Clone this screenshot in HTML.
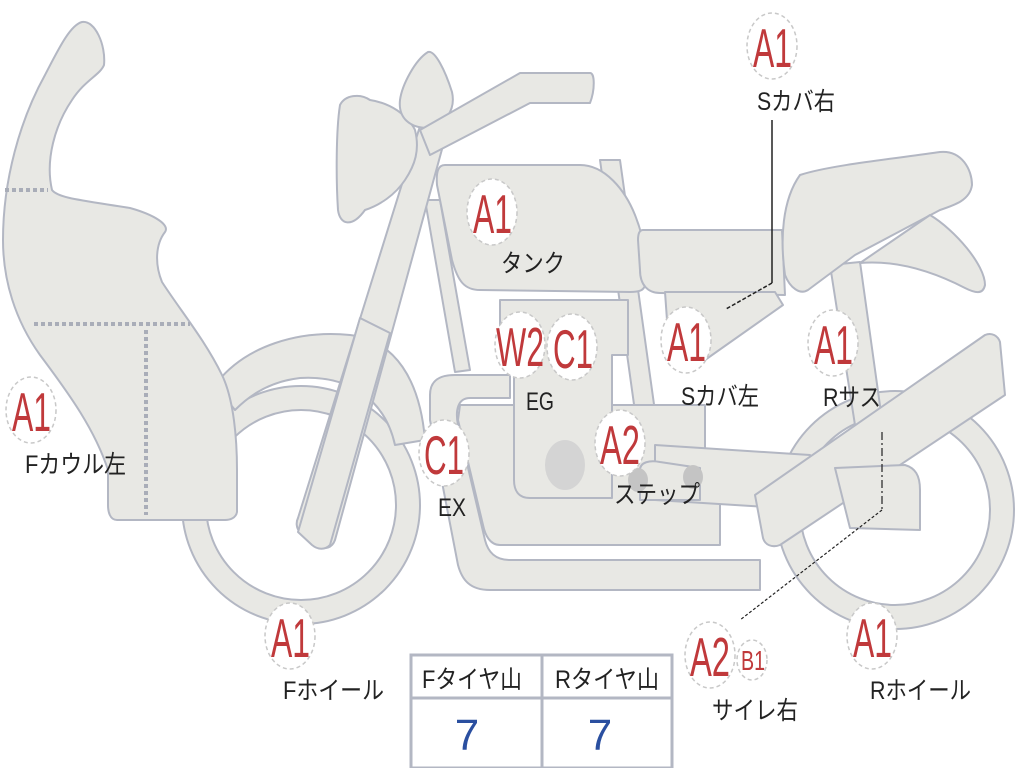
<!DOCTYPE html>
<html><head><meta charset="utf-8"><style>
html,body{margin:0;padding:0;background:#fff;width:1024px;height:768px;overflow:hidden}
svg{display:block}
.p{fill:#e8e8e4;stroke:#b3b7c3;stroke-width:2;stroke-linejoin:round}
.b{fill:#fff;stroke:#c8c8c8;stroke-width:1.5;stroke-dasharray:4 3}
.r{fill:#c0393b;font-family:"Liberation Sans",sans-serif;font-size:55px}
.k{fill:#222;font-family:"Liberation Sans","Noto Sans CJK JP",sans-serif;font-size:25px}
</style></head><body>
<svg width="1024" height="768" viewBox="0 0 1024 768" xmlns="http://www.w3.org/2000/svg">
<circle cx="301" cy="505" r="107" fill="none" stroke="#b3b7c3" stroke-width="26"/>
<circle cx="301" cy="505" r="107" fill="none" stroke="#e8e8e4" stroke-width="22"/>
<circle cx="895" cy="510" r="107" fill="none" stroke="#b3b7c3" stroke-width="26"/>
<circle cx="895" cy="510" r="107" fill="none" stroke="#e8e8e4" stroke-width="22"/>
<path class="p" d="M215,385 C245,345 300,330 350,335 C395,340 420,380 425,440 L395,445 C385,400 350,375 300,378 C265,382 245,400 235,410 Z"/>
<path class="p" d="M82,22 C95,20 106,45 104,65 C100,75 85,80 72,100 C55,125 45,160 52,190 C58,198 80,200 130,208 C155,215 170,225 165,232 C155,245 155,265 162,282 C180,310 205,340 222,375 C234,400 237,440 237,470 L237,512 C236,518 230,520 225,520 L117,520 C110,520 108,512 108,505 L108,470 C95,430 70,395 40,355 C15,320 3,280 3,240 C3,180 20,120 45,75 C58,50 70,25 82,22 Z"/>
<g stroke="#a9adb8" stroke-width="4" stroke-dasharray="4 3">
<line x1="5" y1="190" x2="48" y2="190"/>
<line x1="34" y1="324" x2="190" y2="324"/>
<line x1="146" y1="330" x2="146" y2="515"/>
</g>
<path class="p" d="M425,200 L440,200 L470,370 L455,372 Z"/>
<path class="p" d="M600,160 L620,160 L668,505 L648,505 Z"/>
<path class="p" d="M430,395 C430,380 440,375 455,375 L510,375 L510,398 L470,398 C458,398 455,410 458,425 L485,540 C488,552 495,560 510,560 L760,560 L760,590 L490,590 C470,590 462,580 458,565 L430,420 Z"/>
<path class="p" d="M460,405 L705,405 L705,470 L720,470 L720,545 L500,545 C490,545 485,535 483,525 L458,420 Z"/>
<path class="p" d="M500,300 L628,300 L628,355 L612,355 L612,498 L530,498 C518,498 514,490 514,480 L514,358 L500,358 Z"/>
<ellipse cx="565" cy="465" rx="20" ry="25" fill="#d4d4d4"/>
<path class="p" d="M655,445 L810,455 L815,510 L655,500 Z"/>
<path class="p" d="M640,470 C640,462 650,460 660,462 L700,468 L700,500 L640,500 Z"/>
<ellipse cx="638" cy="480" rx="10" ry="12" fill="#c4c4c4"/>
<ellipse cx="693" cy="477" rx="10" ry="12" fill="#c4c4c4"/>
<path class="p" d="M830,265 L860,262 L882,420 L855,425 Z"/>
<path class="p" d="M755,495 L985,335 C992,332 998,336 1000,342 L1005,395 L780,545 C772,548 765,545 763,538 Z"/>
<path class="p" d="M835,468 L905,465 C915,468 920,475 920,490 L920,530 L850,528 Z"/>
<path class="p" d="M425,110 L450,120 L335,540 C332,548 325,550 318,546 L300,532 C296,528 296,522 298,518 Z"/>
<path class="p" d="M360,318 L390,333 L330,545 C325,550 318,550 312,545 L298,532 Z" fill="none"/>
<path class="p" d="M340,105 C345,95 360,93 370,100 C390,103 408,115 415,130 C420,150 415,165 405,180 C395,195 380,205 365,210 C352,228 340,225 338,210 C336,180 336,130 340,105 Z"/>
<path class="p" d="M428,52 C435,50 445,70 452,92 C456,110 445,125 428,128 C410,128 398,118 400,100 C402,85 415,60 428,52 Z"/>
<path class="p" d="M420,130 L520,73 L590,73 C595,73 595,90 590,103 L530,103 L430,155 Z"/>
<path class="p" d="M445,165 L580,165 C605,165 625,190 635,215 C645,240 648,265 645,285 C644,290 640,292 630,292 L480,290 C465,290 458,282 452,260 L437,185 C436,172 438,165 445,165 Z"/>
<path class="p" d="M643,230 L782,230 L785,295 L660,293 C648,293 640,285 640,270 L638,240 C638,233 640,230 643,230 Z"/>
<path class="p" d="M665,292 L775,292 L783,305 L705,360 L670,362 Z"/>
<path class="p" d="M800,175 C830,165 900,158 940,152 C962,150 972,170 972,185 C970,200 955,205 940,210 L855,255 L808,290 C800,295 790,288 785,275 C780,240 782,200 800,175 Z"/>
<path class="p" d="M930,215 C955,230 985,265 985,285 C983,295 975,293 965,288 C930,270 895,260 860,263 Z"/>
<polyline points="772,120 772,283" fill="none" stroke="#222" stroke-width="1.5"/>
<line x1="772" y1="283" x2="726" y2="309" stroke="#222" stroke-width="1.5" stroke-dasharray="4 2"/>
<line x1="882" y1="432" x2="882" y2="510" stroke="#222" stroke-width="1.2" stroke-dasharray="8 3 2 3"/>
<line x1="882" y1="510" x2="740" y2="620" stroke="#222" stroke-width="1.2" stroke-dasharray="3 2"/>
<g>
<ellipse class="b" cx="772" cy="46" rx="25" ry="33"/><text class="r" x="753" y="67" textLength="39" lengthAdjust="spacingAndGlyphs">A1</text>
<text class="k" x="757" y="110" textLength="78" lengthAdjust="spacingAndGlyphs">Sカバ右</text>
<ellipse class="b" cx="492" cy="212" rx="25" ry="33"/><text class="r" x="473" y="233" textLength="39" lengthAdjust="spacingAndGlyphs">A1</text>
<text class="k" x="501" y="272" textLength="64" lengthAdjust="spacingAndGlyphs">タンク</text>
<ellipse class="b" cx="520" cy="345" rx="25" ry="33"/><text class="r" x="496" y="366" textLength="48" lengthAdjust="spacingAndGlyphs">W2</text>
<ellipse class="b" cx="572" cy="347" rx="25" ry="33"/><text class="r" x="553" y="368" textLength="40" lengthAdjust="spacingAndGlyphs">C1</text>
<text class="k" x="526" y="410" textLength="28" lengthAdjust="spacingAndGlyphs">EG</text>
<ellipse class="b" cx="686" cy="340" rx="25" ry="33"/><text class="r" x="667" y="361" textLength="39" lengthAdjust="spacingAndGlyphs">A1</text>
<text class="k" x="681" y="405" textLength="78" lengthAdjust="spacingAndGlyphs">Sカバ左</text>
<ellipse class="b" cx="833" cy="343" rx="25" ry="33"/><text class="r" x="814" y="364" textLength="39" lengthAdjust="spacingAndGlyphs">A1</text>
<text class="k" x="823" y="406" textLength="58" lengthAdjust="spacingAndGlyphs">Rサス</text>
<ellipse class="b" cx="31" cy="410" rx="25" ry="33"/><text class="r" x="12" y="431" textLength="39" lengthAdjust="spacingAndGlyphs">A1</text>
<text class="k" x="25" y="473" textLength="101" lengthAdjust="spacingAndGlyphs">Fカウル左</text>
<ellipse class="b" cx="444" cy="453" rx="25" ry="33"/><text class="r" x="424" y="474" textLength="40" lengthAdjust="spacingAndGlyphs">C1</text>
<text class="k" x="438" y="516" textLength="28" lengthAdjust="spacingAndGlyphs">EX</text>
<ellipse class="b" cx="620" cy="443" rx="25" ry="33"/><text class="r" x="600" y="464" textLength="40" lengthAdjust="spacingAndGlyphs">A2</text>
<text class="k" x="614" y="503" textLength="86" lengthAdjust="spacingAndGlyphs">ステップ</text>
<ellipse class="b" cx="290" cy="636" rx="25" ry="33"/><text class="r" x="271" y="657" textLength="39" lengthAdjust="spacingAndGlyphs">A1</text>
<text class="k" x="283" y="699" textLength="101" lengthAdjust="spacingAndGlyphs">Fホイール</text>
<ellipse class="b" cx="710" cy="655" rx="25" ry="33"/><text class="r" x="690" y="676" textLength="40" lengthAdjust="spacingAndGlyphs">A2</text>
<ellipse class="b" cx="752" cy="660" rx="15" ry="20"/><text class="r" x="741" y="670" textLength="24" lengthAdjust="spacingAndGlyphs" style="font-size:28px">B1</text>
<text class="k" x="712" y="719" textLength="86" lengthAdjust="spacingAndGlyphs">サイレ右</text>
<ellipse class="b" cx="872" cy="636" rx="25" ry="33"/><text class="r" x="853" y="657" textLength="39" lengthAdjust="spacingAndGlyphs">A1</text>
<text class="k" x="870" y="699" textLength="101" lengthAdjust="spacingAndGlyphs">Rホイール</text>
</g>
<rect x="411" y="655" width="261" height="113" fill="#fff" stroke="#b3b7c3" stroke-width="3"/>
<line x1="411" y1="698" x2="672" y2="698" stroke="#b3b7c3" stroke-width="3"/>
<line x1="542" y1="655" x2="542" y2="768" stroke="#b3b7c3" stroke-width="3"/>
<text class="k" x="422" y="688" textLength="100" lengthAdjust="spacingAndGlyphs">Fタイヤ山</text>
<text class="k" x="555" y="688" textLength="104" lengthAdjust="spacingAndGlyphs">Rタイヤ山</text>
<text x="467" y="750" text-anchor="middle" style="fill:#2a4fa0;font-family:'Liberation Sans',sans-serif;font-size:44px">7</text>
<text x="600" y="750" text-anchor="middle" style="fill:#2a4fa0;font-family:'Liberation Sans',sans-serif;font-size:44px">7</text>
</svg>
</body></html>
